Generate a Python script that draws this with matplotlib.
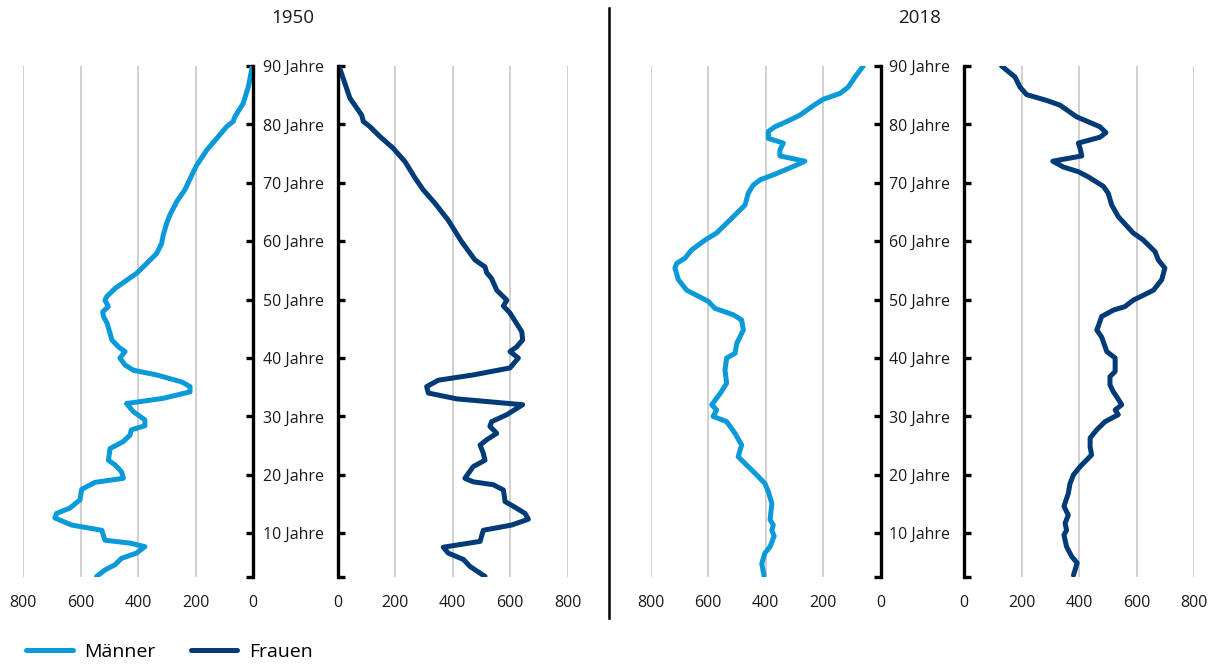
import matplotlib
matplotlib.use("Agg")
import matplotlib.pyplot as plt
from matplotlib.lines import Line2D

plt.rcParams['font.family'] = ['Open Sans', 'DejaVu Sans']

# Altersstruktur (Anzahl je Altersjahr)
m1950_age = [90, 86.5, 83.6, 81.3, 80.5, 79.6, 77.6, 75.6, 73.0, 71.3, 68.8, 66.8, 64.5, 63.1,
             61.1, 59.6, 57.9, 55.6, 54.5, 51.9, 50.5, 49.9, 48.8, 47.9, 47.1, 46.0, 44.2, 43.1,
             41.9, 41.1, 40.0, 38.8, 37.9, 37.1, 35.9, 35.1, 34.2, 33.1, 32.2, 30.8, 29.4, 28.4,
             27.7, 26.8, 25.7, 24.5, 22.5, 21.7, 20.5, 19.4, 18.7, 17.5, 15.7, 14.3, 13.4, 12.6,
             11.4, 10.5, 8.8, 8.3, 7.7, 6.6, 5.7, 4.6, 3.7, 2.6]
m1950 = [2, 16, 34, 63, 69, 92, 126, 161, 196, 213, 237, 265, 289, 300,
         312, 318, 335, 382, 405, 480, 509, 515, 503, 523, 520, 508, 497, 491,
         468, 445, 463, 445, 416, 335, 248, 219, 219, 312, 440, 416, 376, 376,
         423, 428, 451, 497, 503, 480, 457, 451, 550, 596, 602, 637, 683, 689,
         631, 526, 515, 428, 376, 405, 457, 480, 515, 544]

f1950_age = [90, 87.0, 84.5, 81.6, 80.5, 79.6, 77.9, 75.9, 73.6, 70.8, 68.8, 66.5, 63.6, 59.9,
             56.8, 55.6, 54.6, 53.6, 51.6, 49.9, 48.9, 47.7, 45.9, 44.5, 43.1, 41.9, 41.1, 40.0,
             38.3, 37.1, 36.2, 35.1, 34.0, 33.0, 32.0, 30.3, 29.1, 28.3, 27.1, 26.0, 25.1, 23.7,
             22.5, 21.4, 19.4, 18.8, 18.3, 17.4, 15.4, 14.6, 13.4, 12.4, 11.4, 10.5, 8.6, 7.6,
             6.6, 5.5, 4.3, 2.6]
f1950 = [5, 26, 43, 84, 90, 113, 148, 194, 235, 270, 298, 339, 385, 432,
         478, 513, 519, 536, 554, 589, 577, 600, 623, 641, 644, 623, 600, 629,
         600, 472, 351, 310, 316, 415, 644, 589, 536, 530, 554, 519, 496, 507,
         513, 472, 443, 472, 542, 577, 583, 612, 652, 664, 606, 507, 496, 368,
         385, 438, 461, 513]

m2018_age = [90, 88.1, 86.4, 85.3, 84.3, 83.2, 81.6, 80.6, 79.6, 78.8, 77.6, 76.8, 75.6, 74.6,
             73.7, 72.8, 71.6, 70.5, 69.6, 68.2, 66.2, 64.2, 61.4, 60.2, 58.5, 57.1, 56.2, 55.4,
             53.4, 51.6, 49.7, 48.5, 47.4, 46.5, 44.8, 42.5, 40.8, 40.0, 37.9, 35.7, 33.9, 32.0,
             31.1, 30.0, 29.1, 27.1, 25.1, 23.1, 21.4, 20.0, 18.5, 17.1, 15.1, 12.3, 11.4, 10.5,
             9.5, 7.7, 6.6, 4.8, 2.7]
m2018 = [60, 89, 112, 141, 199, 234, 280, 321, 367, 390, 390, 338, 350, 350,
         263, 303, 361, 419, 443, 460, 471, 512, 570, 610, 657, 680, 709, 715,
         703, 674, 599, 576, 512, 483, 477, 500, 506, 535, 541, 535, 558, 587,
         570, 582, 535, 506, 483, 495, 460, 431, 402, 390, 378, 384, 373, 378,
         370, 384, 402, 413, 405]

f2018_age = [90, 88.1, 86.4, 85.1, 84.1, 83.3, 81.3, 79.6, 78.6, 77.8, 76.8, 75.9, 74.6, 73.7,
             72.7, 71.9, 71.0, 69.4, 68.2, 66.2, 64.2, 61.4, 60.2, 58.2, 56.8, 55.4, 53.4, 51.6,
             49.9, 48.8, 48.2, 47.1, 45.4, 44.8, 43.6, 41.1, 40.0, 37.7, 36.8, 35.4, 34.2, 33.4,
             32.0, 31.1, 30.3, 29.1, 27.7, 26.3, 24.8, 23.4, 21.4, 20.0, 18.5, 16.8, 14.6, 13.1,
             11.7, 10.5, 9.7, 7.7, 6.0, 4.9, 2.8]
f2018 = [130, 177, 194, 217, 287, 333, 391, 472, 493, 472, 397, 403, 409, 308,
         345, 397, 432, 484, 501, 513, 536, 588, 623, 664, 675, 698, 687, 658,
         588, 559, 519, 478, 466, 461, 478, 496, 525, 525, 507, 507, 519, 530,
         548, 525, 536, 490, 461, 438, 438, 443, 403, 380, 368, 362, 347, 362,
         351, 356, 347, 356, 374, 393, 380]

years = ['1950', '2018']
age_ticks = [10, 20, 30, 40, 50, 60, 70, 80, 90]
age_labels = [f'{a} Jahre' for a in age_ticks]
x_ticks = [0, 200, 400, 600, 800]

c_m = '#0a9ad9'
c_f = '#003b78'


def style_axis(ax, side):
    ax.set_xlim(0, 800)
    ax.set_ylim(2.5, 90)
    for s in ax.spines.values():
        s.set_visible(False)
    ax.spines[side].set_visible(True)
    ax.spines[side].set_linewidth(2.4)
    ax.spines[side].set_color('black')
    ax.set_xticks(x_ticks)
    ax.xaxis.grid(True, color='#c4c4c4', linewidth=1.1)
    ax.set_axisbelow(True)
    ax.tick_params(axis='x', length=0, pad=13, labelsize=11.5, colors='#1a1a1a')
    ax.set_yticks([2.5] + age_ticks)
    ax.yaxis.set_ticks_position(side)
    ax.tick_params(axis='y', direction='in', length=5, width=2.4, colors='black', labelsize=11.5)


fig = plt.figure(figsize=(12.1, 6.64), dpi=100)
W, H = 1210, 664
bottom = 1 - 577 / H
height = 511 / H
width = 230 / W

panels = [
    (23.0, 337.5, m1950_age, m1950, f1950_age, f1950, 293),
    (650.5, 964.2, m2018_age, m2018, f2018_age, f2018, 920),
]

for (xm, xf, ma, mv, fa, fv, xc), year in zip(panels, years):
    ax_m = fig.add_axes([xm / W, bottom, width, height])
    ax_f = fig.add_axes([xf / W, bottom, width, height])

    ax_m.plot(mv, ma, color=c_m, linewidth=3.6, solid_joinstyle='round', solid_capstyle='round')
    style_axis(ax_m, 'right')
    ax_m.invert_xaxis()
    ax_m.set_yticklabels([])

    ax_f.plot(fv, fa, color=c_f, linewidth=3.6, solid_joinstyle='round', solid_capstyle='round')
    style_axis(ax_f, 'left')
    ax_f.set_yticklabels([''] + age_labels)
    ax_f.tick_params(axis='y', pad=10)
    for lbl in ax_f.get_yticklabels():
        lbl.set_color('#1a1a1a')

    fig.text(xc / W, 1 - 18 / H, year, ha='center', va='center', fontsize=13.5, color='#1a1a1a')

# Trennlinie zwischen den Jahren
fig.add_artist(Line2D([609 / W, 609 / W], [1 - 8 / H, 1 - 618 / H], color='black', linewidth=1.8))

handles = [Line2D([], [], color=c_m, linewidth=3.6, solid_capstyle='round'),
           Line2D([], [], color=c_f, linewidth=3.6, solid_capstyle='round')]
fig.legend(handles, ['Männer', 'Frauen'], loc='lower left', bbox_to_anchor=(0.007, -0.022),
           ncol=2, frameon=False, fontsize=14, handlelength=2.4, columnspacing=1.8,
           handletextpad=0.6)

fig.savefig('out.png', dpi=100)
